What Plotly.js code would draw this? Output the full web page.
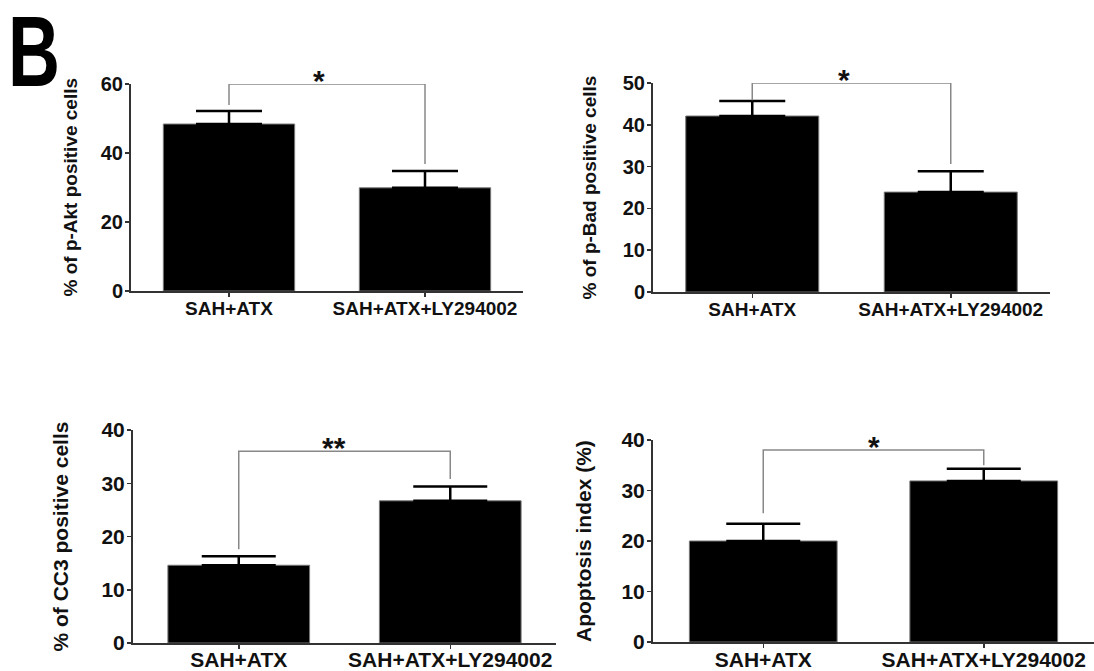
<!DOCTYPE html>
<html>
<head>
<meta charset="utf-8">
<script src="https://cdn.plot.ly/plotly-3.0.1.min.js"></script>
<style>html,body{margin:0;padding:0;background:#fff;}#chart{width:1094px;height:671px;}</style>
</head>
<body>
<div id="chart"></div>
<script>
// ---- data ----
var categories = ["SAH+ATX", "SAH+ATX+LY294002"];

var aktMean = [48.4, 29.9];
var aktErr  = [3.8, 4.9];
var badMean = [42.1, 23.9];
var badErr  = [3.6, 5.0];
var cc3Mean = [14.6, 26.7];
var cc3Err  = [1.7, 2.7];
var apoMean = [20.0, 31.9];
var apoErr  = [3.4, 2.4];

// significance brackets: [left foot, top, right foot]
var aktBracket = [53.9, 60.0, 36.8];
var badBracket = [45.9, 50.0, 30.6];
var cc3Bracket = [17.6, 36.0, 30.8];
var apoBracket = [25.5, 38.0, 35.0];

var sigLabels = ["*", "*", "**", "*"];
var yTitles = ["% of p-Akt positive cells", "% of p-Bad positive cells",
               "% of CC3 positive cells", "Apoptosis index (%)"];
var yRanges = [[0, 60], [0, 50], [0, 40], [0, 40]];
var yTicks = [[0, 20, 40, 60], [0, 10, 20, 30, 40, 50], [0, 10, 20, 30, 40], [0, 10, 20, 30, 40]];
var panelLetter = "B";

// ---- layout geometry (pixels) ----
var W = 1094, H = 671;
var panels = [
  {x0: 131, x1: 523, yb: 291, yt: 84,  cap: 33, fs: 19, tfs: 20, ttl: 19, tx: 70,  starX: 0.46, sd: -5},
  {x0: 653, x1: 1050, yb: 292, yt: 83, cap: 33, fs: 19, tfs: 20, ttl: 19, tx: 589, starX: 0.46, sd: -5},
  {x0: 133, x1: 556, yb: 643, yt: 430, cap: 37, fs: 21, tfs: 21, ttl: 21, tx: 60,  starX: 0.45, sd: -7},
  {x0: 653, x1: 1094, yb: 642, yt: 440, cap: 37, fs: 21, tfs: 21, ttl: 21, tx: 583, starX: 0.50, sd: -6}
];
var means = [aktMean, badMean, cc3Mean, apoMean];
var errs = [aktErr, badErr, cc3Err, apoErr];
var brackets = [aktBracket, badBracket, cc3Bracket, apoBracket];

var FONT = "Liberation Sans, Arial, sans-serif";
var traces = [];
var layout = {
  width: W, height: H,
  margin: {l: 0, r: 0, t: 0, b: 0},
  paper_bgcolor: "#fff", plot_bgcolor: "rgba(0,0,0,0)",
  showlegend: false,
  annotations: [],
  font: {family: FONT, color: "#111"}
};

panels.forEach(function (p, i) {
  var n = i + 1;
  var xa = "x" + (n === 1 ? "" : n), ya = "y" + (n === 1 ? "" : n);
  traces.push({
    type: "bar", x: categories, y: means[i], xaxis: xa, yaxis: ya,
    width: 0.67,
    marker: {color: "#000", line: {color: "#777", width: 1}},
    error_y: {type: "data", symmetric: false, array: errs[i], arrayminus: [0, 0],
              color: "#000", thickness: 2.5, width: p.cap},
    hoverinfo: "skip"
  });
  var b = brackets[i];
  traces.push({
    type: "scatter", mode: "lines", xaxis: xa, yaxis: ya,
    x: [categories[0], categories[0], categories[1], categories[1]],
    y: [b[0], b[1], b[1], b[2]],
    line: {color: "#888", width: 1.5}, hoverinfo: "skip"
  });
  layout["xaxis" + (n === 1 ? "" : n)] = {
    domain: [p.x0 / W, p.x1 / W], anchor: ya, type: "category",
    range: [-0.5, 1.5], showline: true, linecolor: "#333", linewidth: 2,
    ticks: "outside", ticklen: 4, tickwidth: 1.5, tickcolor: "#333",
    ticklabelstandoff: p.sd,
    showgrid: false, zeroline: false, fixedrange: true,
    tickfont: {family: FONT, size: p.fs, color: "#111", weight: "bold"}
  };
  layout["yaxis" + (n === 1 ? "" : n)] = {
    domain: [1 - p.yb / H, 1 - p.yt / H], anchor: xa,
    range: yRanges[i], tickmode: "array", tickvals: yTicks[i],
    showline: true, linecolor: "#333", linewidth: 2,
    ticks: "outside", ticklen: 4, tickwidth: 1.5, tickcolor: "#333",
    ticklabelstandoff: -2,
    showgrid: false, zeroline: false, fixedrange: true,
    tickfont: {family: FONT, size: p.tfs, color: "#111", weight: "bold"}
  };
  layout.annotations.push({
    xref: "paper", yref: "paper", x: p.tx / W, y: 1 - ((p.yb + p.yt) / 2) / H,
    text: yTitles[i], textangle: -90, showarrow: false,
    xanchor: "center", yanchor: "middle",
    font: {family: FONT, size: p.ttl, color: "#111", weight: "bold"}
  });
  layout.annotations.push({
    xref: xa, yref: ya, x: p.starX, y: b[1], text: sigLabels[i],
    showarrow: false, xanchor: "center", yanchor: "bottom", yshift: -15,
    font: {family: FONT, size: 30, color: "#111", weight: "bold"}
  });
});

layout.annotations.push({
  xref: "paper", yref: "paper", x: 6 / W, y: 1 + 7 / H,
  xanchor: "left", yanchor: "top", text: panelLetter, showarrow: false,
  font: {family: FONT, size: 100, color: "#000", weight: "bold"}
});

Plotly.newPlot("chart", traces, layout, {displayModeBar: false, staticPlot: true}).then(function (gd) {
  // narrow the panel letter (condensed look of the reference)
  var texts = gd.querySelectorAll(".annotation-text");
  texts.forEach(function (t) {
    if (t.textContent === panelLetter) {
      var bb = t.getBBox();
      var prev = t.getAttribute("transform") || "";
      t.setAttribute("transform", prev + " translate(" + bb.x + ",0) scale(0.72,1) translate(" + (-bb.x) + ",0)");
    }
  });
});
</script>
</body>
</html>
